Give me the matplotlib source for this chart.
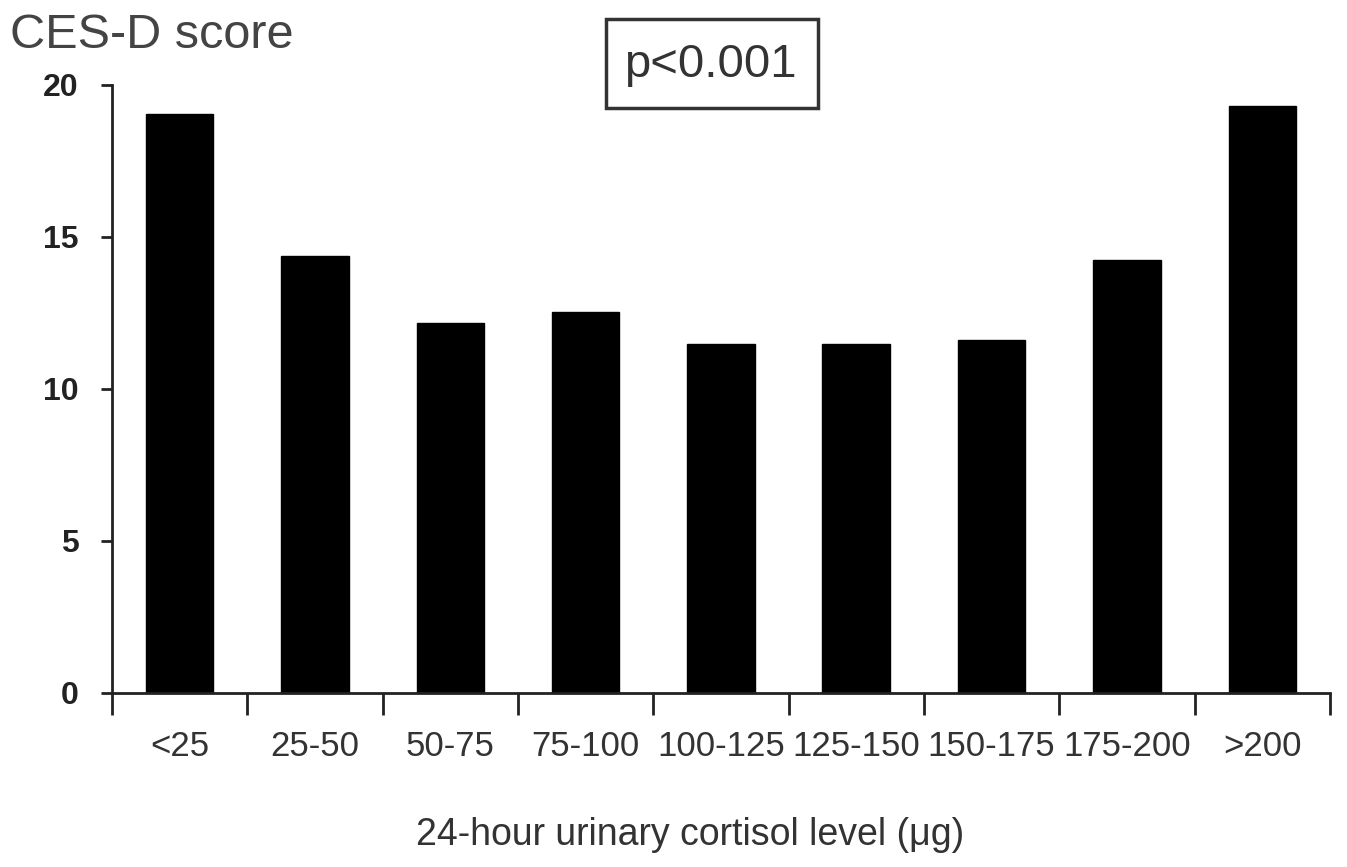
import matplotlib
matplotlib.use("Agg")
import matplotlib.pyplot as plt
from matplotlib.patches import Rectangle
import numpy as np

categories = ["<25", "25-50", "50-75", "75-100", "100-125", "125-150", "150-175", "175-200", ">200"]
scores = [19.05, 14.37, 12.17, 12.53, 11.48, 11.48, 11.61, 14.24, 19.31]
y_ticks = [0, 5, 10, 15, 20]

plt.rcParams['font.family'] = ['Liberation Sans', 'DejaVu Sans']

W, H = 1347, 867
fig = plt.figure(figsize=(W / 100, H / 100), dpi=100)
ax = fig.add_axes([112 / W, 1 - 693 / H, (1330 - 112) / W, (693 - 85) / H])

x = np.arange(len(categories))
ax.bar(x, scores, width=0.5, color="black", edgecolor="black")

ax.set_xlim(-0.5, len(categories) - 0.5)
ax.set_ylim(0, 20)
ax.spines['top'].set_visible(False)
ax.spines['right'].set_visible(False)
for s in ('left', 'bottom'):
    ax.spines[s].set_linewidth(2)
    ax.spines[s].set_color('#222222')

ax.set_yticks(y_ticks)
ax.set_yticklabels([str(v) for v in y_ticks], fontsize=23, fontweight='bold', color='#222222')
ax.tick_params(axis='y', direction='out', length=8, width=2, pad=16, colors='#222222')

ax.set_xticks(np.arange(len(categories) + 1) - 0.5)
ax.set_xticklabels([])
ax.set_xticks(x, minor=True)
ax.set_xticklabels(categories, minor=True, fontsize=25, color='#333333')
ax.tick_params(axis='x', which='major', direction='out', length=16, width=2, colors='#222222')
ax.tick_params(axis='x', which='minor', length=0, pad=27)

fig.text(690 / W, 1 - 835 / H, "24-hour urinary cortisol level (\u03bcg)", fontsize=27,
         color='#333333', ha='center', va='center')
fig.text(10 / W, 1 - 35 / H, "CES-D score", fontsize=35, color='#444444', ha='left', va='center')

fig.patches.append(Rectangle((606 / W, 1 - 108 / H), 212 / W, 89 / H, transform=fig.transFigure,
                             facecolor='white', edgecolor='#333333', linewidth=2.5))
fig.text(710 / W, 1 - 65 / H, "p<0.001", fontsize=34, color='#333333', ha='center', va='center')

fig.savefig("out.png", dpi=100)
